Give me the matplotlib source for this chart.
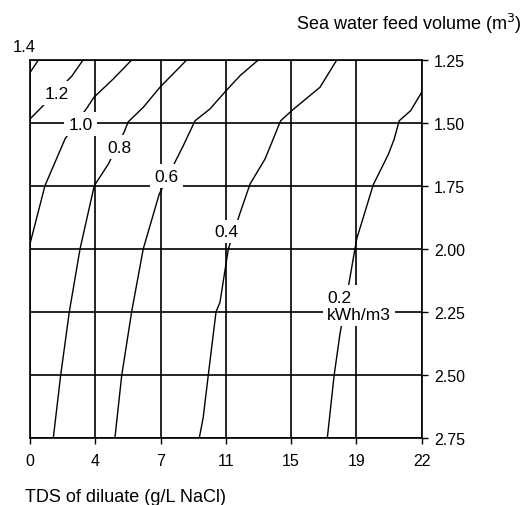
import matplotlib
matplotlib.use("Agg")
import matplotlib.pyplot as plt
import numpy as np

plt.rcParams["font.family"] = ["Liberation Sans", "DejaVu Sans"]
plt.rcParams["font.size"] = 11.5

# energy contours (kWh/m3): TDS of diluate (x) at sea water feed volume (y)
c14_x = [0.0, 0.47]
c14_y = [1.30, 1.25]
c12_x = [0.0, 0.56, 2.36, 2.98]
c12_y = [1.484, 1.444, 1.313, 1.25]
c10_x = [0.0, 0.84, 1.97, 3.22, 3.59, 4.68, 5.71]
c10_y = [1.98, 1.749, 1.563, 1.438, 1.398, 1.325, 1.25]
c08_x = [1.31, 1.72, 2.21, 2.81, 3.61, 4.40, 5.28, 5.52, 6.36, 7.30, 8.80]
c08_y = [2.75, 2.503, 2.249, 2.0, 1.749, 1.663, 1.537, 1.495, 1.438, 1.358, 1.25]
c06_x = [4.77, 5.15, 5.71, 6.36, 7.26, 8.14, 8.61, 9.27, 10.11, 11.01, 11.80, 12.82]
c06_y = [2.75, 2.503, 2.249, 2.0, 1.782, 1.656, 1.590, 1.491, 1.444, 1.372, 1.312, 1.25]
c04_x = [9.51, 9.73, 10.01, 10.45, 10.67, 11.14, 11.80, 12.36, 13.20, 14.08, 14.70, 16.29, 17.23]
c04_y = [2.75, 2.668, 2.503, 2.249, 2.212, 2.0, 1.857, 1.742, 1.643, 1.491, 1.451, 1.358, 1.25]
c02_x = [16.70, 17.08, 17.41, 17.94, 18.35, 19.28, 20.13, 20.45, 20.74, 21.38, 22.0]
c02_y = [2.75, 2.503, 2.337, 2.126, 1.960, 1.745, 1.624, 1.565, 1.491, 1.451, 1.378]

contours = [(c14_x, c14_y), (c12_x, c12_y), (c10_x, c10_y), (c08_x, c08_y),
            (c06_x, c06_y), (c04_x, c04_y), (c02_x, c02_y)]

# contour labels and where they sit
label_text = ["1.2", "1.0", "0.8", "0.6", "0.4", "0.2\nkWh/m3"]
label_x = [1.52, 2.85, 5.02, 7.68, 11.05, 18.48]
label_y = [1.381, 1.504, 1.596, 1.711, 1.931, 2.225]

x_ticks = np.linspace(0, 22, 7)
x_ticklabels = ["0", "4", "7", "11", "15", "19", "22"]
y_ticks = [1.25, 1.50, 1.75, 2.00, 2.25, 2.50, 2.75]

fig = plt.figure(figsize=(5.25, 5.06), dpi=100)
ax = fig.add_axes([0.0571, 0.1324, 0.7461, 0.747])

for xs, ys in contours:
    ax.plot(xs, ys, color="black", lw=1.0, zorder=3)

for t, x, y in zip(label_text, label_x, label_y):
    ax.text(x, y, t, ha="center", va="center", zorder=5, multialignment="left",
            fontsize=12.5, bbox=dict(boxstyle="square,pad=0.25", fc="white", ec="none"))

# the 1.4 label sits outside the plot area
ax.text(-0.34, 1.198, "1.4", ha="center", va="center", fontsize=12, clip_on=False)

ax.set_xlim(0, 22)
ax.set_ylim(2.75, 1.25)
ax.set_xticks(x_ticks)
ax.set_xticklabels(x_ticklabels)
ax.set_yticks(y_ticks)
ax.set_yticklabels([f"{v:.2f}" for v in y_ticks])
ax.yaxis.tick_right()
ax.tick_params(axis="both", direction="out", length=4, width=1.0, color="black", pad=5)
ax.tick_params(axis="x", pad=7)
ax.tick_params(axis="y", left=False)
ax.grid(True, color="black", lw=1.2, zorder=1)
ax.set_axisbelow(True)
for s in ax.spines.values():
    s.set_linewidth(1.2)

fig.text(0.994, 1 - 24 / 506, "Sea water feed volume (m$^3$)", ha="right", va="center", fontsize=13)
fig.text(25 / 525, 1 - 498 / 506, "TDS of diluate (g/L NaCl)", ha="left", va="center", fontsize=13)

fig.savefig("out.png", dpi=100)
plt.close(fig)
